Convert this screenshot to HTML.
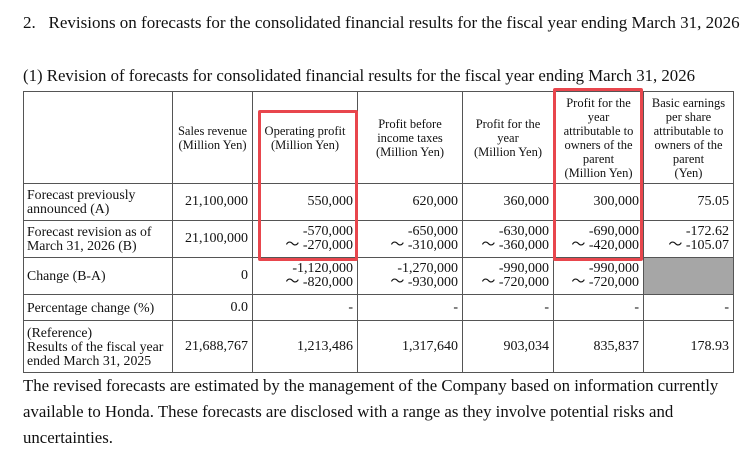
<!DOCTYPE html>
<html><head><meta charset="utf-8"><style>
body{margin:0;width:750px;height:458px;background:#fff;position:relative;font-family:"Liberation Serif",serif;color:#111;overflow:hidden}
.t{position:absolute;white-space:nowrap}
table{position:absolute;left:23px;top:91px;width:710px;border-collapse:collapse;table-layout:fixed;font-size:14px}
td{border:1px solid #555;padding:0 4px;line-height:14px;text-align:right;vertical-align:middle;overflow:hidden;white-space:nowrap}
td.l{text-align:left;padding-left:3px;padding-right:0;font-size:13.8px}
tr.h td{text-align:center;font-size:12.5px;line-height:14px;padding:0 2px}
.box{position:absolute;border:3px solid #e8464d;border-radius:2px}
</style></head><body>
<div class="t" style="left:23px;top:13px;font-size:17px">2.&nbsp;&nbsp; Revisions on forecasts for the consolidated financial results for the fiscal year ending March 31, 2026</div>
<div class="t" style="left:23px;top:66px;font-size:16.8px">(1) Revision of forecasts for consolidated financial results for the fiscal year ending March 31, 2026</div>
<table>
<colgroup><col style="width:149px"><col style="width:80px"><col style="width:105px"><col style="width:105px"><col style="width:91px"><col style="width:90px"><col style="width:90px"></colgroup>
<tr class="h" style="height:92px"><td></td><td>Sales revenue<br>(Million Yen)</td><td>Operating profit<br>(Million Yen)</td><td>Profit before<br>income taxes<br>(Million Yen)</td><td>Profit for the<br>year<br>(Million Yen)</td><td>Profit for the<br>year<br>attributable to<br>owners of the<br>parent<br>(Million Yen)</td><td>Basic earnings<br>per share<br>attributable to<br>owners of the<br>parent<br>(Yen)</td></tr>
<tr style="height:37px"><td class="l">Forecast previously<br>announced (A)</td><td>21,100,000</td><td>550,000</td><td>620,000</td><td>360,000</td><td>300,000</td><td>75.05</td></tr>
<tr style="height:37px"><td class="l">Forecast revision as of<br>March 31, 2026 (B)</td><td>21,100,000</td><td>-570,000<br>～ -270,000</td><td>-650,000<br>～ -310,000</td><td>-630,000<br>～ -360,000</td><td>-690,000<br>～ -420,000</td><td>-172.62<br>～ -105.07</td></tr>
<tr style="height:37px"><td class="l">Change (B-A)</td><td>0</td><td>-1,120,000<br>～ -820,000</td><td>-1,270,000<br>～ -930,000</td><td>-990,000<br>～ -720,000</td><td>-990,000<br>～ -720,000</td><td style="background:#a6a6a6"></td></tr>
<tr style="height:26px"><td class="l">Percentage change (%)</td><td>0.0</td><td>-</td><td>-</td><td>-</td><td>-</td><td>-</td></tr>
<tr style="height:52px"><td class="l">(Reference)<br>Results of the fiscal year<br>ended March 31, 2025</td><td>21,688,767</td><td>1,213,486</td><td>1,317,640</td><td>903,034</td><td>835,837</td><td>178.93</td></tr>
</table>
<div class="box" style="left:258px;top:110px;width:94px;height:145px"></div>
<div class="box" style="left:553px;top:88px;width:84px;height:167px"></div>
<div class="t" style="left:23px;top:373px;font-size:16.8px;line-height:26px">The revised forecasts are estimated by the management of the Company based on information currently<br>available to Honda. These forecasts are disclosed with a range as they involve potential risks and<br>uncertainties.</div>
</body></html>
